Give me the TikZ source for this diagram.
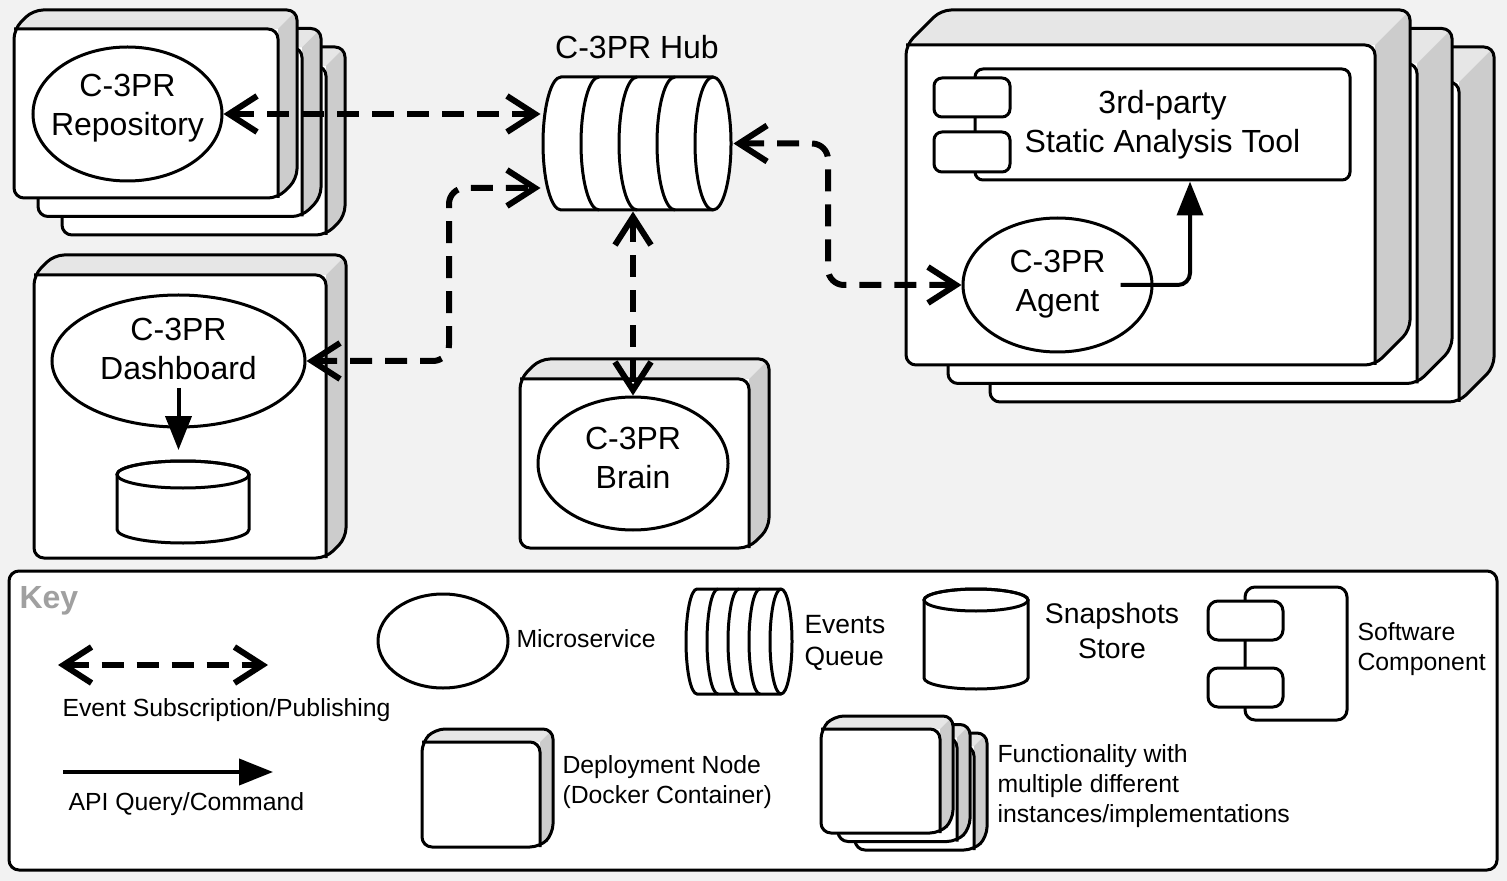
\documentclass[tikz,border=0pt]{standalone}
\usepackage{fontspec}
\setmainfont{Liberation Sans}
\usetikzlibrary{shapes.geometric,arrows.meta,calc}
\definecolor{bggray}{HTML}{F2F2F2}
\definecolor{topgray}{HTML}{E6E6E6}
\definecolor{sidegray}{HTML}{CCCCCC}
\definecolor{keygray}{HTML}{A0A0A0}

\newcommand{\depnode}[5]{%
  \begin{scope}
    \clip[rounded corners = 5pt] (#1,#2+#5) -- (#1+#5,#2) -- (#3,#2) -- (#3,#4-#5) -- (#3-#5,#4) -- (#1,#4) -- cycle;
    \fill[white] (#1,#2) rectangle (#3,#4);
    \fill[topgray] (#1,#2) -- (#3,#2) -- (#3-#5,#2+#5) -- (#1,#2+#5) -- cycle;
    \fill[sidegray] (#3-#5,#2+#5) -- (#3,#2) -- (#3,#4) -- (#3-#5,#4) -- cycle;
  \end{scope}
  \draw[rounded corners = 5pt] (#1,#2+#5) -- (#3-#5,#2+#5) -- (#3-#5,#4);
  \draw[rounded corners = 5pt] (#1,#2+#5) -- (#1+#5,#2) -- (#3,#2) -- (#3,#4-#5) -- (#3-#5,#4) -- (#1,#4) -- cycle;
}
\newcommand{\evqueue}[7]{%
  \draw[fill = white] (#1,#3) -- (#2,#3) arc[start angle = 90, end angle = -90, x radius = #5, y radius = #6]
    -- (#1,#4) arc[start angle = 270, end angle = 90, x radius = #5, y radius = #6] -- cycle;
  \foreach \qx in {#7}{
    \draw (\qx,#3) arc[start angle = 90, end angle = 270, x radius = #5, y radius = #6];
  }
}
\newcommand{\dbstore}[7]{%
  \draw[fill = white] (#1,#3) -- (#1,#4) arc[start angle = 180, end angle = 360, x radius = #5, y radius = #6]
    -- (#2,#3) arc[start angle = 0, end angle = 180, x radius = #5, y radius = #6] -- cycle;
  \draw (#7,#3) ellipse [x radius = #5, y radius = #6];
}
\newcommand{\svclabel}[3]{\raisebox{#1}[\height][\depth]{\begin{tabular}{@{}c@{}}#2\\#3\end{tabular}}}

\begin{document}
\begin{tikzpicture}[x = 0.5pt, y = -0.5pt, line width = 1.5pt,
    every node/.style = {font = \fontsize{16}{19.5}\selectfont, inner sep = 0pt},
    svc/.style = {ellipse, draw, fill = white, align = center, inner xsep = -15pt},
    evt/.style = {line width = 3pt, dash pattern = on 11pt off 6.5pt,
      {Straight Barb[length = 14pt, width = 18pt]}-{Straight Barb[length = 14pt, width = 18pt]}},
    api/.style = {line width = 2pt, -{Triangle[length = 17pt, width = 13pt]}},
    keytxt/.style = {anchor = base west, align = left, font = \fontsize{12.4}{15}\selectfont}]
    \useasboundingbox (0,0) rectangle (1507,881);
    \fill[bggray] (0,0) rectangle (1507,881);

    \foreach \k in {2,1,0}{
      \depnode{14+24*\k}{10+18.5*\k}{297+24*\k}{198+18.5*\k}{19}
    }
    \node[svc, minimum width = 94.5pt, minimum height = 67pt] (repo) at (127.5,114) {\svclabel{3pt}{C-3PR}{Repository}};

    \node[minimum width = 95pt, minimum height = 66.5pt] (hub) at (637,143.5) {};
    \evqueue{561}{713}{77}{210}{9pt}{33.25pt}{599,637,675,713}
    \node[anchor = base] (hublbl) at (637,59) {C-3PR Hub};

    \depnode{34}{255}{346}{558}{20}
    \node[svc, minimum width = 126.5pt, minimum height = 66pt] (dash) at (178.5,361) {\svclabel{4.5pt}{C-3PR}{Dashboard}};
    \dbstore{117}{249}{474.5}{529.5}{33pt}{6.75pt}{183}
    \coordinate (store) at (178.5,461);
    \draw[api] ($(dash)+(0,27)$) -- ($(store)+(0,-11)$);

    \depnode{520}{359}{769}{548}{20}
    \node[svc, minimum width = 95pt, minimum height = 66.5pt] (brain) at (633,463.5) {\svclabel{1pt}{C-3PR}{Brain}};

    \foreach \k in {2,1,0}{
      \depnode{906+42*\k}{10+18.5*\k}{1410+42*\k}{365+18.5*\k}{35}
    }
    \node[draw, fill = white, rounded corners = 4pt, align = center,
      minimum width = 187.5pt, minimum height = 55.5pt] (sat) at (1162.5,124.5) {3rd-party\\Static Analysis Tool};
    \draw[fill = white, rounded corners = 4pt] (934,78) rectangle (1010,117);
    \draw[fill = white, rounded corners = 4pt] (934,132) rectangle (1010,172);
    \node[svc, minimum width = 94.5pt, minimum height = 67pt] (agent) at (1057.5,285) {\svclabel{0.5pt}{C-3PR}{Agent}};
    \draw[api, rounded corners = 6pt] ($(agent)+(63,0)$) -| ($(sat.south)+(27.5,0)$);

    \coordinate (dbend) at (449,188);
    \coordinate (abend) at (828,285);
    \draw[evt] (repo.east) -- (repo.east -| hub.west);
    \draw[evt, rounded corners = 8pt] (dash.east) -| (dbend) -- (dbend -| hub.west);
    \draw[evt] (brain.north |- hub.south) -- (brain.north);
    \draw[evt, rounded corners = 8pt] (hub.east) -| (abend) -- (agent.west);

    \draw[fill = white, rounded corners = 5pt] (9,571) rectangle (1497,870);
    \node[anchor = base west, font = \fontsize{16}{19}\selectfont\bfseries, text = keygray] (keylbl) at (18,608) {Key};

    \coordinate (evtA) at (58,665);
    \coordinate (evtB) at (268,665);
    \draw[evt] (evtA) -- (evtB);
    \node[keytxt] (evtlbl) at (61,716) {Event Subscription/Publishing};
    \coordinate (apiA) at (63,772);
    \coordinate (apiB) at (273,772);
    \draw[api] (apiA) -- (apiB);
    \node[keytxt] (apilbl) at (67,810) {API Query/Command};

    \node[svc, minimum width = 65pt, minimum height = 47pt] (micro) at (443,641) {};
    \node[keytxt] (microlbl) at (515,647) {Microservice};
    \evqueue{697}{781}{589}{694}{5.5pt}{26.25pt}{718,739,760,781}
    \node[keytxt, font = \fontsize{13.2}{16}\selectfont] (queuelbl) at (803,665) {Events\\Queue};
    \dbstore{924}{1028}{600}{678}{26pt}{5.5pt}{976}
    \node[anchor = base, align = center, font = \fontsize{14.2}{17.5}\selectfont] (storelbl) at (1112,658) {Snapshots\\Store};
    \draw[fill = white, rounded corners = 5pt] (1245,587) rectangle (1347,720);
    \draw[fill = white, rounded corners = 5pt] (1208,601) rectangle (1283,640);
    \draw[fill = white, rounded corners = 5pt] (1208,668) rectangle (1283,707);
    \node[keytxt] (complbl) at (1356,670) {Software\\Component};

    \depnode{422}{729}{553}{847}{13}
    \node[keytxt] (deplbl) at (561,803) {Deployment Node\\(Docker Container)};
    \foreach \k in {2,1,0}{
      \depnode{821+17*\k}{716+8.5*\k}{953+17*\k}{833+8.5*\k}{13}
    }
    \node[keytxt] (multlbl) at (996,822) {Functionality with\\multiple different\\instances/implementations};
\end{tikzpicture}
\end{document}
